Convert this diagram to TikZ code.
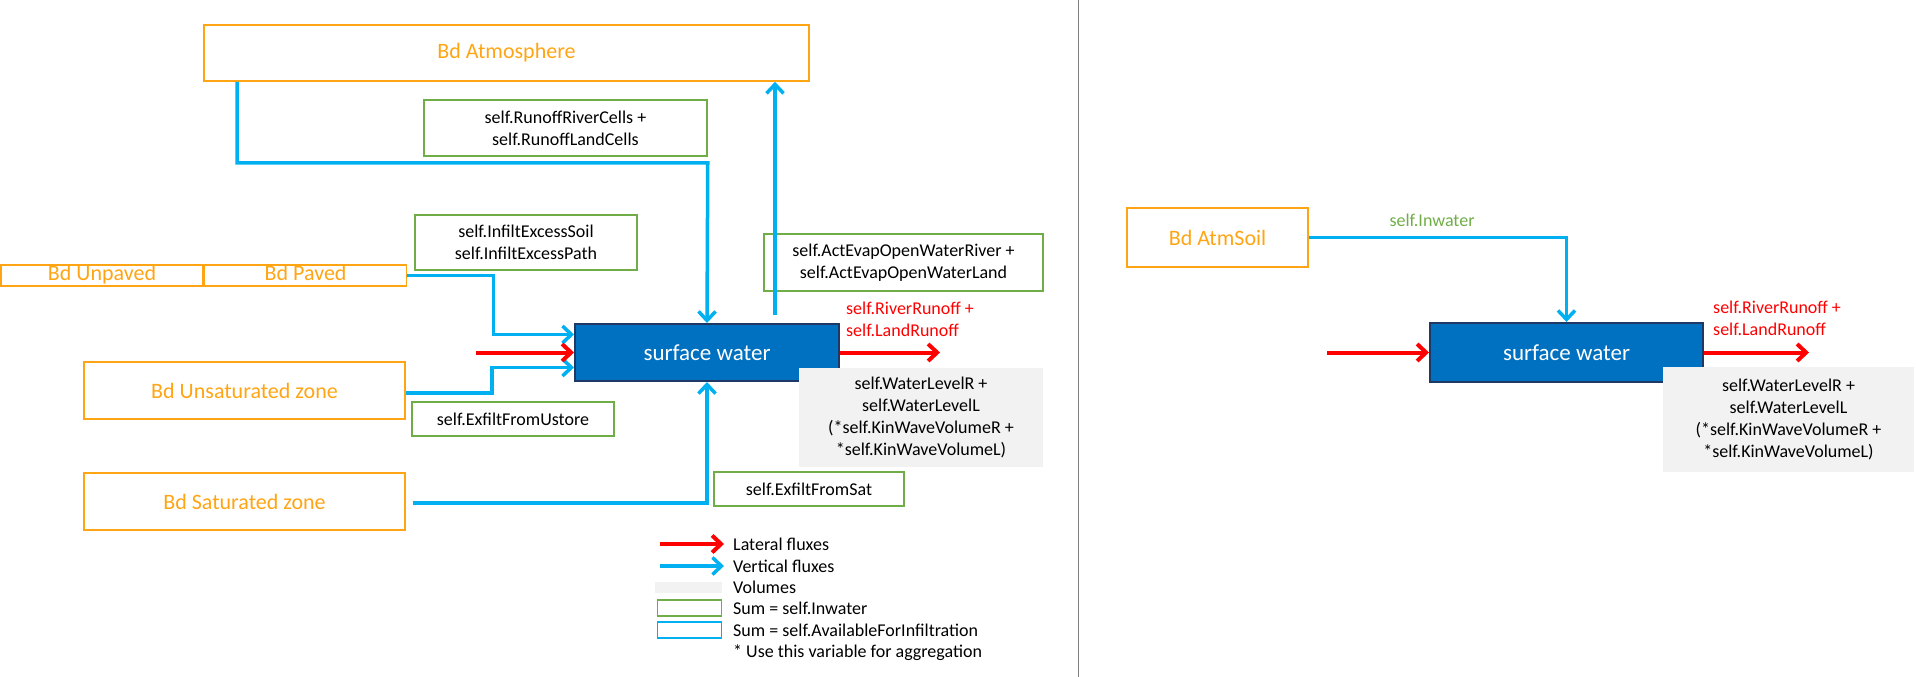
\documentclass[tikz,border=0pt]{standalone}
\usepackage{fontspec}
\setmainfont{Carlito}
\usepackage{tikz}
\usetikzlibrary{positioning,arrows.meta}
\definecolor{bdorange}{RGB}{255,165,20}
\definecolor{fluxblue}{RGB}{0,176,240}
\definecolor{fluxred}{RGB}{255,0,0}
\definecolor{sumgreen}{RGB}{112,173,71}
\definecolor{volgrey}{RGB}{242,242,242}
\definecolor{swblue}{RGB}{0,112,192}
\definecolor{swborder}{RGB}{31,56,100}
\definecolor{sepgrey}{RGB}{128,128,128}

\begin{document}
\begin{tikzpicture}[
  x=1pt, y=-1pt,
  font=\fontsize{18}{22}\selectfont,
  bd/.style={draw=bdorange, line width=1.6pt, text=bdorange, inner sep=0pt,
             font=\fontsize{22}{26}\selectfont},
  sum/.style={draw=sumgreen, line width=1.5pt, align=center, inner sep=0pt},
  vol/.style={fill=volgrey, align=center, inner sep=0pt},
  store/.style={fill=swblue, draw=swborder, line width=2pt, text=white,
                inner sep=0pt, font=\fontsize{23}{27}\selectfont},
  vflux/.style={-{Straight Barb[length=9pt,width=17pt]}, fluxblue, line width=3.5pt},
  lflux/.style={-{Straight Barb[length=9pt,width=17pt]}, fluxred, line width=4pt},
  lbl/.style={align=left, inner sep=0pt, anchor=west}
]
\useasboundingbox (0,0) rectangle (1916,677);

%% left part: all flows into surface water
\node[bd, minimum width=605pt, minimum height=56pt] (atm) at (506.5,53) {Bd Atmosphere};
\node[bd, minimum width=202pt, minimum height=21pt, text height=15pt, text depth=5pt]
  (unpaved) at (102,275.5) {Bd Unpaved};
\node[bd, minimum width=202pt, minimum height=21pt, text height=15pt, text depth=5pt,
      right=0pt of unpaved] (paved) {Bd Paved};
\node[bd, minimum width=321pt, minimum height=57pt] (unsat) at (244.5,390.5) {Bd Unsaturated zone};
\node[bd, minimum width=321pt, minimum height=57pt] (sat) at (244.5,501.5) {Bd Saturated zone};
\node[store, minimum width=264pt, minimum height=57pt] (sw) at (707,352.5) {surface water};

\node[sum, minimum width=283pt, minimum height=56pt] (runoff) at (565.5,128)
  {self.RunoffRiverCells +\\self.RunoffLandCells};
\node[sum, minimum width=222pt, minimum height=55pt] (infilt) at (526,242.5)
  {self.InfiltExcessSoil\\self.InfiltExcessPath};
\node[sum, minimum width=279pt, minimum height=57pt] (evap) at (903.5,262.5)
  {self.ActEvapOpenWaterRiver +\\self.ActEvapOpenWaterLand};
\node[sum, minimum width=202pt, minimum height=34pt] (exustore) at (513,419)
  {self.ExfiltFromUstore};
\node[sum, minimum width=190pt, minimum height=34pt] (exsat) at (809,489)
  {self.ExfiltFromSat};
\node[lbl, text=fluxred] (out) at (846,319) {self.RiverRunoff +\\self.LandRunoff};

\draw[vflux] ([xshift=34pt]atm.south west) |- ([yshift=-6pt]runoff.south east) -- (sw.north);
\draw[vflux] ([xshift=68pt,yshift=8pt]sw.north) -- ([xshift=68pt]sw.north |- atm.south);
\draw[vflux] (paved.east) -- ++(86,0) |- ([yshift=18pt]sw.west);
\draw[vflux] ([yshift=-2.5pt]unsat.east) -- ++(86,0) |- ([yshift=-15pt]sw.west);
\draw[vflux] ([xshift=7pt,yshift=-1.5pt]sat.east) -| (sw.south);
\draw[lflux] ([xshift=-98pt]sw.west) -- (sw.west);
\draw[lflux] (sw.east) -- ++(100,0);

% volumes box sits over the corner of the store
\node[vol, minimum width=244pt, minimum height=99pt] (vol) at (921,417.5)
  {self.WaterLevelR +\\self.WaterLevelL\\(*self.KinWaveVolumeR +\\*self.KinWaveVolumeL)};

%% legend
\node[lbl] (lglat) at (733,544) {Lateral fluxes};
\node[lbl] (lgvert) at (733,566) {Vertical fluxes};
\node[lbl] (lgvol) at (733,587) {Volumes};
\node[lbl] (lgsum) at (733,608) {Sum = self.Inwater};
\node[lbl] (lginf) at (733,630) {Sum = self.AvailableForInfiltration};
\node[lbl] (lgagg) at (733,653) {* Use this variable for aggregation};
\draw[lflux] ([xshift=-73pt]lglat.west) -- ([xshift=-9pt]lglat.west);
\draw[vflux] ([xshift=-73pt]lgvert.west) -- ([xshift=-9pt]lgvert.west);
\node[vol, minimum width=67pt, minimum height=11pt, left=11pt of lgvol] (swvol) {};
\node[sum, minimum width=64pt, minimum height=16pt, left=11pt of lgsum] (swsum) {};
\node[sum, draw=fluxblue, minimum width=64pt, minimum height=16pt, left=11pt of lginf] (swinf) {};

\draw[sepgrey, line width=1pt] (1078,0) -- (1078,677);

%% right part: surface water fed by AtmSoil
\node[bd, minimum width=181pt, minimum height=59pt] (atmsoil) at (1217.5,237.5) {Bd AtmSoil};
\node[store, minimum width=273pt, minimum height=59pt] (sw2) at (1566.5,352.5) {surface water};
\node[text=sumgreen, inner sep=0pt] (inwater) at (1432,220) {self.Inwater};
\node[lbl, text=fluxred] (out2) at (1713,318) {self.RiverRunoff +\\self.LandRunoff};

\draw[vflux] (atmsoil.east) -| (sw2.north);
\draw[lflux] ([xshift=-102pt]sw2.west) -- (sw2.west);
\draw[lflux] (sw2.east) -- ++(105,0);

\node[vol, minimum width=251pt, minimum height=105pt] (vol2) at (1788.5,419.5)
  {self.WaterLevelR +\\self.WaterLevelL\\(*self.KinWaveVolumeR +\\*self.KinWaveVolumeL)};
\end{tikzpicture}
\end{document}
